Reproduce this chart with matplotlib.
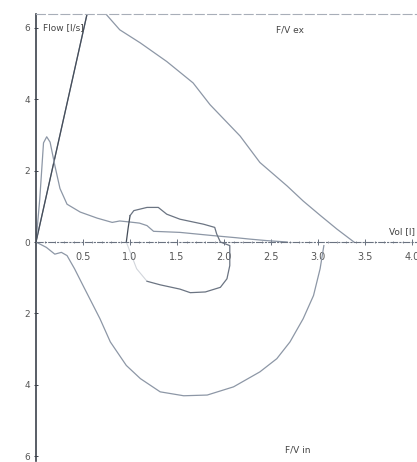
import numpy as np
import matplotlib.pyplot as plt
from matplotlib.ticker import FuncFormatter, MultipleLocator

# expiratory flow/volume curve (peak is off the top of the chart)
ex_vol = [0, 0.62, 0.75, 0.89, 1.11, 1.39, 1.67, 1.85, 2.17, 2.38, 2.67, 2.84, 3.02, 3.20, 3.38]
ex_flow = [0, 7.3, 6.37, 5.95, 5.58, 5.06, 4.46, 3.85, 2.97, 2.23, 1.57, 1.15, 0.75, 0.36, 0]

# small expiratory curve with early peak
pk_vol = [0, 0.04, 0.08, 0.114, 0.15, 0.2, 0.255, 0.33, 0.47, 0.65, 0.81, 0.89, 1.0, 1.1,
          1.18, 1.25, 1.53, 1.88, 2.13, 2.28, 2.45, 2.67]
pk_flow = [0, 1.2, 2.78, 2.95, 2.8, 2.15, 1.5, 1.06, 0.84, 0.67, 0.55, 0.59, 0.56, 0.53,
           0.46, 0.30, 0.27, 0.18, 0.12, 0.08, 0.04, 0]

# tidal loop
td_vol = [0.96, 0.98, 1.0, 1.04, 1.18, 1.30, 1.39, 1.53, 1.78, 1.90, 1.92, 1.96, 2.06, 2.06,
          2.03, 1.96, 1.80, 1.64, 1.53, 1.32, 1.18, 1.07, 0.96]
td_flow = [0, 0.4, 0.74, 0.88, 0.97, 0.97, 0.78, 0.64, 0.50, 0.41, 0.23, 0, -0.1, -0.66,
           -1.03, -1.27, -1.40, -1.42, -1.32, -1.2, -1.1, -0.75, 0]

# inspiratory curve
in_vol = [0, 0.11, 0.2, 0.27, 0.33, 0.41, 0.50, 0.68, 0.79, 0.96, 1.11, 1.32, 1.57, 1.82,
          2.10, 2.38, 2.56, 2.70, 2.84, 2.95, 3.02, 3.06]
in_flow = [0, -0.15, -0.34, -0.29, -0.38, -0.75, -1.22, -2.15, -2.8, -3.46, -3.83, -4.2,
           -4.31, -4.29, -4.06, -3.64, -3.27, -2.8, -2.15, -1.5, -0.75, -0.1]

x_ticks = [0.5, 1.0, 1.5, 2.0, 2.5, 3.0, 3.5, 4.0]
y_ticks = [-6, -4, -2, 0, 2, 4, 6]

light = "#8d97a6"
mid = "#6b7482"
dark = "#454d59"

fig = plt.figure(figsize=(4.17, 4.62), dpi=100)
ax = fig.add_axes([0.0863, 0.0013, 0.9137, 0.969])

ax.plot(ex_vol, ex_flow, color=light, lw=0.9)
ax.plot(ex_vol[:2], ex_flow[:2], color=dark, lw=0.9)
ax.plot(pk_vol, pk_flow, color=light, lw=0.9)
ax.plot(td_vol[:3], td_flow[:3], color=dark, lw=0.9)
ax.plot(td_vol[2:21], td_flow[2:21], color=mid, lw=0.9)
ax.plot(td_vol[20:], td_flow[20:], color=light, lw=0.8, alpha=0.4)
ax.plot(in_vol, in_flow, color=light, lw=0.9)

ax.set_xlim(0, 4.05)
ax.set_ylim(-6.15, 6.4)

ax.spines["right"].set_visible(False)
ax.spines["left"].set_position(("data", 0))
ax.spines["left"].set_color("#3c424c")
ax.spines["left"].set_linewidth(1.2)
ax.spines["bottom"].set_position(("data", 0))
ax.spines["bottom"].set_color("#6a7280")
ax.spines["bottom"].set_linestyle((0, (6, 2, 1, 2)))
ax.spines["top"].set_color("#a8aeb8")
ax.spines["top"].set_linestyle((0, (8, 3)))

ax.set_xticks(x_ticks)
ax.set_xticklabels([f"{v:.1f}" for v in x_ticks])
ax.xaxis.set_minor_locator(MultipleLocator(0.1))
ax.set_yticks(y_ticks)
ax.yaxis.set_major_formatter(FuncFormatter(lambda v, p: f"{abs(v):.0f}"))
ax.tick_params(axis="x", which="major", direction="inout", length=4, width=0.7,
               color="#6a7280", labelsize=7, labelcolor="#555555", pad=5)
ax.tick_params(axis="x", which="minor", direction="inout", length=2, width=0.5,
               color="#6a7280")
ax.tick_params(axis="y", direction="inout", length=3, width=0.7, color="#3c424c",
               labelsize=6.5, labelcolor="#555555", pad=3)

ax.text(0.07, 6.0, "Flow [l/s]", fontsize=6.5, color="#444444", ha="left", va="center")
ax.text(2.7, 5.95, "F/V ex", fontsize=6.5, color="#444444", ha="center", va="center")
ax.text(4.03, 0.28, "Vol [l]", fontsize=6.5, color="#444444", ha="right", va="center")
ax.text(2.78, -5.84, "F/V in", fontsize=6.5, color="#444444", ha="center", va="center")

fig.savefig("out.png", dpi=100)
